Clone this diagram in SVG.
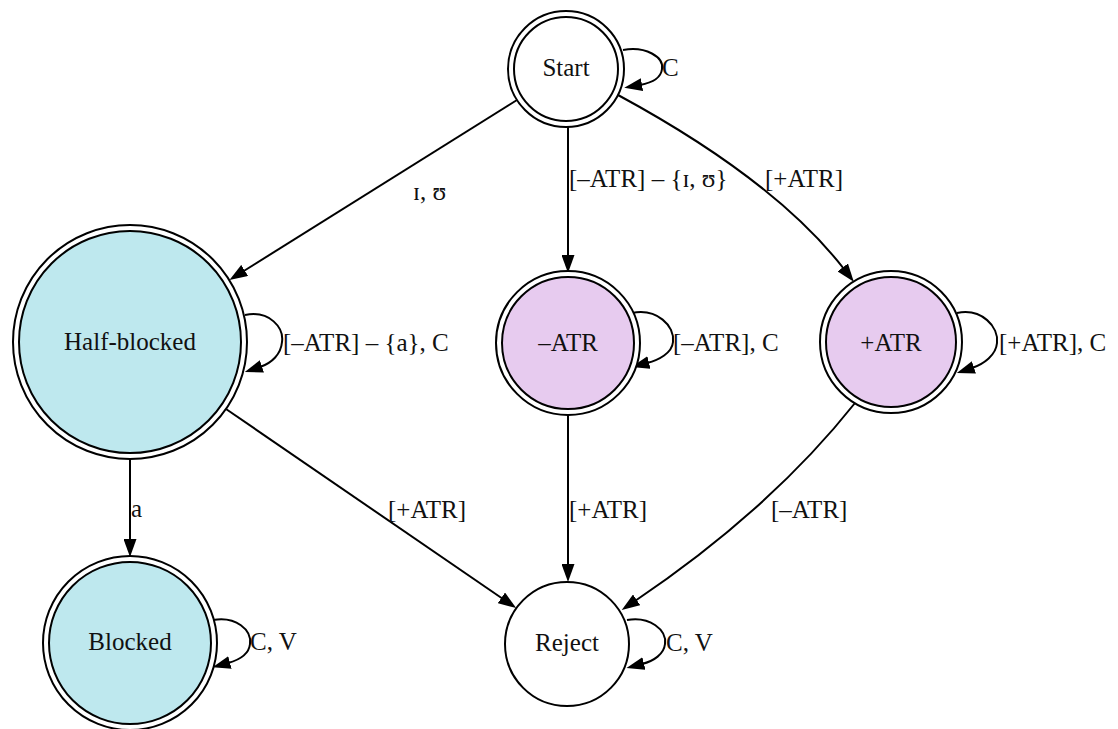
<svg xmlns="http://www.w3.org/2000/svg" width="1118" height="729" viewBox="0 0 1118 729">
<style>
  .bg { fill: #ffffff; }
  .outer { fill: #ffffff; stroke: #000; stroke-width: 2; }
  .white { fill: #ffffff; stroke: #000; stroke-width: 2; }
  .cyan { fill: #bee8ee; stroke: #000; stroke-width: 2; }
  .lilac { fill: #e7cbef; stroke: #000; stroke-width: 2; }
  .edge { fill: none; stroke: #000; stroke-width: 2; marker-end: url(#arrow); }
  text { font-family: "Liberation Serif", "Times New Roman", serif; font-size: 25px; fill: #111; }
  .node-label { text-anchor: middle; }
</style>
<defs>
  <marker id="arrow" viewBox="0 0 18 13" refX="2" refY="6.5" markerWidth="18" markerHeight="13" markerUnits="userSpaceOnUse" orient="auto">
    <path d="M0,0 L18,6.5 L0,13 z" fill="#000"/>
  </marker>
</defs>
<rect class="bg" x="0" y="0" width="1118" height="729"/>

<g id="connectors">
  <!-- Start self loop -->
  <path class="edge" d="M623,50 C646,46 664,57 662,69 C661,78 651,83 640,85"/>
  <text x="662" y="76">C</text>
  <!-- Start -> Half-blocked -->
  <path class="edge" d="M517,100 L243,271.5"/>
  <text x="413" y="200">ɪ, ʊ</text>
  <!-- Start -> -ATR -->
  <path class="edge" d="M568,127 L568,257"/>
  <text x="569" y="187">[–ATR] – {ɪ, ʊ}</text>
  <!-- Start -> +ATR -->
  <path class="edge" d="M618,95 Q775,180 844,269"/>
  <text x="765" y="187">[+ATR]</text>
  <!-- Half-blocked self loop -->
  <path class="edge" d="M245,315 C270,310 284,328 282,342 C281,354 272,363 260,367"/>
  <text x="283" y="351">[–ATR] – {a}, C</text>
  <!-- -ATR self loop -->
  <path class="edge" d="M632,313 C657,308 675,326 673,342 C672,353 659,360 647,363"/>
  <text x="673" y="351">[–ATR], C</text>
  <!-- +ATR self loop -->
  <path class="edge" d="M957,313 C982,308 999,327 997,343 C996,355 984,364 972,368"/>
  <text x="999" y="351">[+ATR], C</text>
  <!-- Half-blocked -> Blocked -->
  <path class="edge" d="M130,459 L130,541"/>
  <text x="131" y="517">a</text>
  <!-- Half-blocked -> Reject -->
  <path class="edge" d="M226,409 L503,599"/>
  <text x="388" y="518">[+ATR]</text>
  <!-- -ATR -> Reject -->
  <path class="edge" d="M568,414 L568,566"/>
  <text x="569" y="518">[+ATR]</text>
  <!-- +ATR -> Reject -->
  <path class="edge" d="M855,403 Q770,510 635,601"/>
  <text x="771" y="518">[–ATR]</text>
  <!-- Blocked self loop -->
  <path class="edge" d="M213,620 C236,616 252,630 250,644 C249,654 239,660 228,663"/>
  <text x="250" y="650">C, V</text>
  <!-- Reject self loop -->
  <path class="edge" d="M627,620 C650,616 667,630 665,644 C664,654 654,661 642,664"/>
  <text x="666" y="651">C, V</text>
</g>

<g id="node-start">
  <circle class="outer" cx="566" cy="69" r="58"/>
  <circle class="white" cx="566" cy="69" r="52"/>
  <text class="node-label" x="566" y="76">Start</text>
</g>
<g id="node-halfblocked">
  <circle class="outer" cx="130" cy="342" r="117"/>
  <circle class="cyan" cx="130" cy="342" r="111"/>
  <text class="node-label" x="130" y="350">Half-blocked</text>
</g>
<g id="node-minusatr">
  <circle class="outer" cx="568" cy="343" r="72"/>
  <circle class="lilac" cx="568" cy="343" r="66"/>
  <text class="node-label" x="568" y="351">–ATR</text>
</g>
<g id="node-plusatr">
  <circle class="outer" cx="891" cy="342" r="71"/>
  <circle class="lilac" cx="891" cy="342" r="65"/>
  <text class="node-label" x="891" y="351">+ATR</text>
</g>
<g id="node-blocked">
  <circle class="outer" cx="130" cy="643" r="87"/>
  <circle class="cyan" cx="130" cy="643" r="81"/>
  <text class="node-label" x="130" y="650">Blocked</text>
</g>
<g id="node-reject">
  <circle class="white" cx="567" cy="644" r="62"/>
  <text class="node-label" x="567" y="651">Reject</text>
</g>
</svg>
